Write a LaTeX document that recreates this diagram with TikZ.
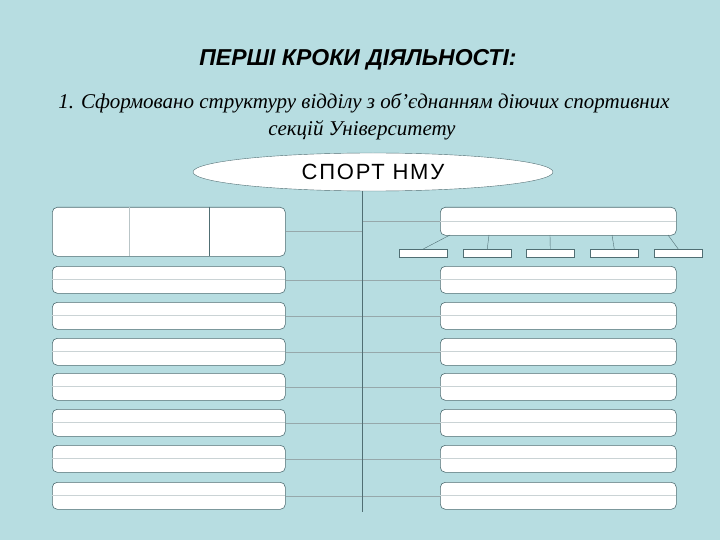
\documentclass[tikz,border=0pt]{standalone}
\usepackage{fontspec}
\setmainfont{Liberation Serif}
\newfontfamily\hsans{Liberation Sans}
\newfontfamily\hsansw[LetterSpace=8]{Liberation Sans}
\usetikzlibrary{shapes.geometric}
\definecolor{bg}{RGB}{183,221,225}
\definecolor{ln}{RGB}{80,110,115}
\begin{document}
\begin{tikzpicture}[x=1pt,y=-1pt,
 bx/.style={draw=ln,fill=white,rounded corners=5pt,line width=0.6pt},
 sb/.style={draw=ln,fill=white,line width=0.5pt},
 cn/.style={draw=ln!60,line width=0.4pt}]
\fill[bg] (0,0) rectangle (720,540);
\useasboundingbox (0,0) rectangle (720,540);
\node[font=\hsans\bfseries\itshape\fontsize{23}{26}\selectfont] (t) at (358,60) {ПЕРШІ КРОКИ ДІЯЛЬНОСТІ:};
\node[font=\itshape\fontsize{21}{24}\selectfont] (l1) at (364,103) {1. Сформовано структуру відділу  з об’єднанням діючих спортивних};
\node[font=\itshape\fontsize{21}{24}\selectfont] (l2) at (362,130) {секцій Університету};
\coordinate (top) at (362,191);
\coordinate (bot) at (362,512);
\draw[ln,line width=0.6pt] (top) -- (bot);
\node[ellipse,draw=ln,fill=white,minimum width=360,minimum height=38,inner sep=0pt,font=\hsansw\fontsize{22}{24}\selectfont] (e) at (373,172) {СПОРТ НМУ};
% first rows
\node[bx,minimum width=233,minimum height=49,anchor=north west] (L0) at (52,207) {};
\draw[cn] (L0.east|-0,231) -- (362,231);
\draw[ln!40] (129,207) -- (129,256);
\draw[ln] (209,207) -- (209,256);
\node[bx,minimum width=236,minimum height=28,anchor=north west] (R0) at (440,207) {};
\draw[cn] (362,221) -- (R0.west|-0,221);
\draw[ln!30] (440,221) -- (676,221);
\foreach \x/\n in {399/a,463/b,526/c,590/d,654/e}{
 \node[sb,minimum width=48,minimum height=8,anchor=north west,inner sep=0] (s\n) at (\x,249) {};}
\draw[ln] (450,235) -- (sa.north);
\draw[ln] (489,235) -- (sb.north);
\draw[ln] (550,235) -- (sc.north);
\draw[ln] (612,235) -- (sd.north);
\draw[ln] (668,235) -- (se.north);
\foreach \y [count=\i] in {266,302,338,373,409,445,482}{
 \node[bx,minimum width=233,minimum height=27,anchor=north west] (L\i) at (52,\y) {};
 \node[bx,minimum width=236,minimum height=27,anchor=north west] (R\i) at (440,\y) {};
 \draw[ln!30] (52,\y+13.5) -- (285,\y+13.5);
 \draw[ln!30] (440,\y+13.5) -- (676,\y+13.5);
 \draw[cn] (L\i.east) -- (R\i.west);
}
\draw[ln,line width=0.6pt] (top) -- (bot);
\end{tikzpicture}
\end{document}
